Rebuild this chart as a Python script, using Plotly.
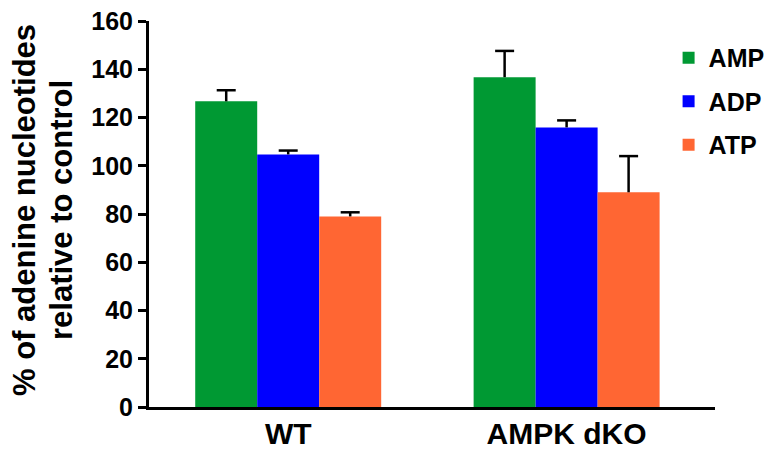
import plotly.graph_objects as go

categories = ["WT", "AMPK dKO"]
series_names = ["AMP", "ADP", "ATP"]
amp_values = [126.7, 136.7]
adp_values = [104.7, 115.9]
atp_values = [79.0, 89.0]
amp_errors = [4.6, 10.9]
adp_errors = [1.6, 2.9]
atp_errors = [1.7, 15.0]
y_ticks = [0, 20, 40, 60, 80, 100, 120, 140, 160]

colors = ["#009933", "#0000FF", "#FF6633"]
values = [amp_values, adp_values, atp_values]
errors = [amp_errors, adp_errors, atp_errors]

FONT = "Liberation Sans, Arial, sans-serif"
BARGAP = 0.332

fig = go.Figure()
for name, vals, col in zip(series_names, values, colors):
    fig.add_trace(go.Bar(
        x=categories, y=vals, name=name, legendgroup=name,
        marker=dict(color=col, line=dict(width=0)),
    ))

# one-sided (upper) error bars drawn through the data axes
n_series = len(series_names)
bar_w = (1 - BARGAP) / n_series
for k, (vals, errs) in enumerate(zip(values, errors)):
    for i, (v, e) in enumerate(zip(vals, errs)):
        xc = i - (1 - BARGAP) / 2 + bar_w * (k + 0.5)
        fig.add_shape(type="line", xref="x", yref="y", x0=xc, x1=xc, y0=v, y1=v + e,
                      line=dict(color="black", width=2.5), layer="above")
        fig.add_shape(type="line", xref="x", yref="y", xsizemode="pixel", xanchor=xc,
                      x0=-9.5, x1=9.5, y0=v + e, y1=v + e,
                      line=dict(color="black", width=2.5), layer="above")

fig.update_layout(
    width=767, height=450,
    margin=dict(l=149, r=52, t=21, b=43, autoexpand=False),
    paper_bgcolor="white", plot_bgcolor="white",
    barmode="group", bargap=BARGAP, bargroupgap=0,
    font=dict(family=FONT, color="black"),
    showlegend=True,
    legend=dict(x=0.918, y=0.964, xanchor="left", yanchor="top",
                font=dict(size=25, family=FONT, color="black", weight="bold"),
                tracegroupgap=8, bgcolor="rgba(0,0,0,0)"),
    xaxis=dict(range=[-0.5, 1.533], showline=True, linecolor="black", linewidth=3,
               ticks="", showgrid=False, zeroline=False, automargin=False,
               ticklabelstandoff=-2,
               tickfont=dict(size=30, family=FONT, color="black", weight="bold")),
    yaxis=dict(range=[0, 160], tickvals=y_ticks, showline=True, linecolor="black",
               linewidth=3, ticks="outside", ticklen=8, tickwidth=3, tickcolor="black",
               showgrid=False, zeroline=False, automargin=False,
               tickfont=dict(size=25, family=FONT, color="black", weight="bold")),
)

title_lines = ["% of adenine nucleotides", "relative to control"]
title_x = [24, 61]
for txt, px in zip(title_lines, title_x):
    fig.add_annotation(text=txt, textangle=-90, xref="paper", yref="paper",
                       x=(px - 149) / 566, y=1 - (210 - 21) / 386,
                       xanchor="center", yanchor="middle", showarrow=False,
                       font=dict(size=31, family=FONT, color="black", weight="bold"))

fig.write_html("out.html", config={"displayModeBar": False},
               post_script="document.body.style.margin='0';document.body.style.padding='0';")
